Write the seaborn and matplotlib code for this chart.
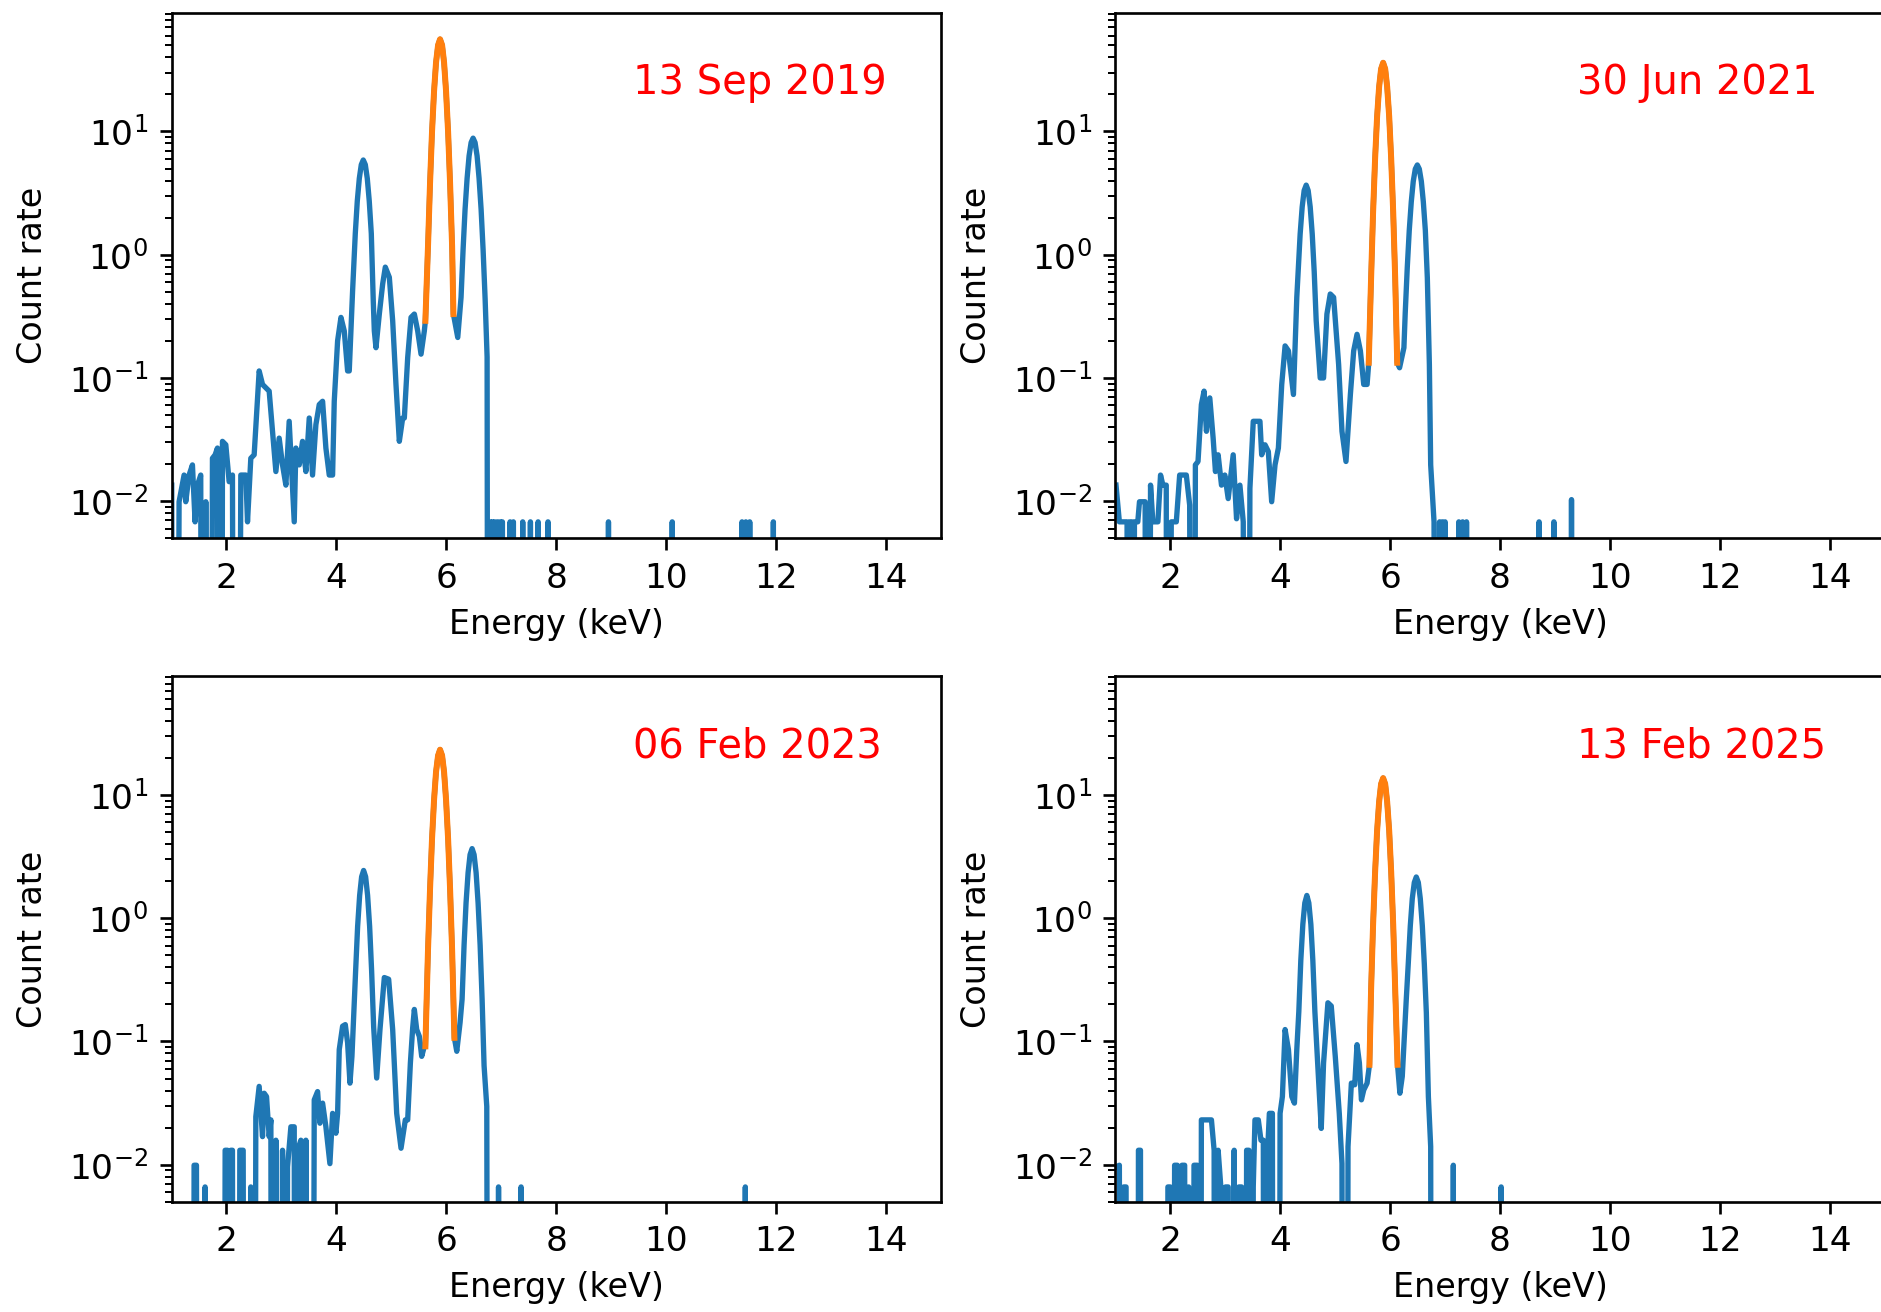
import numpy as np
import pandas as pd
import matplotlib
matplotlib.use("Agg")
import matplotlib.pyplot as plt
import seaborn as sns

# ---------------- data ----------------
dates = ["13 Sep 2019", "30 Jun 2021", "06 Feb 2023", "13 Feb 2025"]

energy_2019 = [1.004, 1.047, 1.138, 1.229, 1.259, 1.320, 1.381, 1.429, 1.472, 1.532,
               1.575, 1.624, 1.684, 1.745, 1.794, 1.836, 1.897, 1.927, 1.988, 2.049,
               2.109, 2.170, 2.261, 2.352, 2.383, 2.443, 2.504, 2.595, 2.656, 2.716,
               2.777, 2.838, 2.899, 2.959, 3.020, 3.081, 3.141, 3.233, 3.263, 3.324,
               3.384, 3.445, 3.506, 3.566, 3.627, 3.688, 3.749, 3.809, 3.870, 3.931,
               3.961, 4.022, 4.083, 4.143, 4.204, 4.234, 4.295, 4.344, 4.380, 4.417,
               4.453, 4.489, 4.526, 4.562, 4.598, 4.635, 4.671, 4.690, 4.720, 4.781,
               4.842, 4.890, 4.963, 5.024, 5.084, 5.145, 5.206, 5.236, 5.297, 5.358,
               5.418, 5.479, 5.540, 5.600, 5.619, 5.667, 5.704, 5.740, 5.777, 5.813,
               5.850, 5.886, 5.923, 5.959, 5.995, 6.032, 6.068, 6.105, 6.129, 6.208,
               6.268, 6.305, 6.341, 6.378, 6.414, 6.451, 6.487, 6.523, 6.560, 6.596,
               6.633, 6.669, 6.706, 6.742, 6.772]
rate_2019 = [0.0135, 0, 0.0099, 0.0163, 0.0099, 0.0163, 0.0197, 0.0068, 0.0135, 0.0163,
             0, 0.0099, 0, 0.0223, 0.0238, 0.0270, 0, 0.0306, 0.0287, 0.0144,
             0.0163, 0, 0.0163, 0.0163, 0.0068, 0.0223, 0.0238, 0.114, 0.0886, 0.0832,
             0.0782, 0.0369, 0.0174, 0.0325, 0.0197, 0.0135, 0.0445, 0.0068, 0.0270, 0.0197,
             0.0306, 0.0174, 0.0473, 0.0163, 0.0418, 0.0608, 0.0647, 0.0270, 0.0163, 0.0163,
             0.0647, 0.200, 0.310, 0.241, 0.114, 0.114, 0.511, 1.49, 2.72, 4.16,
             5.38, 5.87, 5.38, 4.16, 2.72, 1.49, 0.42, 0.241, 0.176, 0.330,
             0.579, 0.793, 0.656, 0.291, 0.0886, 0.0306, 0.0473, 0.0473, 0.146, 0.310,
             0.330, 0.241, 0.156, 0.241, 0.291, 1.18, 3.84, 10.0, 21.3, 36.3,
             50.2, 56.0, 50.2, 36.3, 21.3, 10.0, 3.84, 1.18, 0.330, 0.213,
             0.451, 1.10, 2.33, 4.16, 6.33, 8.13, 8.83, 8.13, 6.33, 4.16,
             2.33, 1.10, 0.437, 0.148, 0]
spike_energy_2019 = [6.80, 6.84, 6.88, 6.93, 6.98, 7.02, 7.16, 7.22, 7.39, 7.53,
                     7.67, 7.85, 8.95, 10.11, 11.38, 11.45, 11.52, 11.95]
spike_rate_2019 = [0.0068, 0.0068, 0.0068, 0.0068, 0.0068, 0.0068, 0.0068, 0.0068, 0.0068, 0.0068,
                   0.0068, 0.0068, 0.0068, 0.0068, 0.0068, 0.0068, 0.0068, 0.0068]
fit_energy_2019 = [5.619, 5.667, 5.704, 5.740, 5.777, 5.813, 5.850, 5.886, 5.923, 5.959,
                   5.995, 6.032, 6.068, 6.105, 6.129]
fit_rate_2019 = [0.291, 1.18, 3.84, 10.0, 21.3, 36.3, 50.2, 56.0, 50.2, 36.3,
                 21.3, 10.0, 3.84, 1.18, 0.330]

energy_2021 = [1.013, 1.074, 1.214, 1.239, 1.263, 1.300, 1.324, 1.348, 1.409, 1.440,
               1.543, 1.580, 1.641, 1.683, 1.775, 1.823, 1.866, 1.927, 1.957, 2.018,
               2.110, 2.171, 2.292, 2.353, 2.414, 2.457, 2.505, 2.566, 2.615, 2.658,
               2.719, 2.780, 2.822, 2.871, 2.932, 2.993, 3.054, 3.145, 3.206, 3.267,
               3.328, 3.389, 3.449, 3.510, 3.632, 3.663, 3.724, 3.784, 3.845, 3.906,
               3.967, 4.028, 4.089, 4.150, 4.241, 4.302, 4.326, 4.363, 4.400, 4.436,
               4.473, 4.509, 4.546, 4.583, 4.619, 4.655, 4.728, 4.789, 4.850, 4.911,
               4.972, 5.063, 5.124, 5.197, 5.277, 5.337, 5.398, 5.459, 5.520, 5.581,
               5.611, 5.654, 5.690, 5.727, 5.763, 5.800, 5.836, 5.873, 5.910, 5.946,
               5.983, 6.019, 6.056, 6.092, 6.129, 6.172, 6.251, 6.275, 6.312, 6.348,
               6.385, 6.421, 6.458, 6.495, 6.531, 6.568, 6.604, 6.641, 6.677, 6.714,
               6.738, 6.799, 6.860]
rate_2021 = [0.0135, 0.0068, 0.0068, 0, 0.0068, 0.0068, 0, 0.0068, 0.0068, 0.0099,
             0.0099, 0, 0.0135, 0.0068, 0.0068, 0.0163, 0.0135, 0.0135, 0, 0.0068,
             0.0068, 0.0163, 0.0163, 0.0093, 0, 0.0197, 0.0210, 0.0608, 0.0782, 0.0369,
             0.0689, 0.0325, 0.0174, 0.0238, 0.0135, 0.0163, 0.0105, 0.0238, 0.0072, 0.0135,
             0.0068, 0, 0.0127, 0.0445, 0.0445, 0.0238, 0.0287, 0.0253, 0.0099, 0.0197,
             0.0270, 0.0886, 0.182, 0.166, 0.0734, 0.451, 0.726, 1.47, 2.44, 3.32,
             3.67, 3.32, 2.44, 1.47, 0.726, 0.291, 0.100, 0.100, 0.330, 0.480,
             0.451, 0.129, 0.0369, 0.0210, 0.0734, 0.166, 0.226, 0.166, 0.0886, 0.0886,
             0.133, 0.649, 2.21, 6.06, 13.2, 23.1, 32.2, 36.1, 32.2, 23.1,
             13.2, 6.06, 2.21, 0.649, 0.133, 0.121, 0.176, 0.338, 0.787, 1.57,
             2.69, 3.94, 4.96, 5.35, 4.96, 3.94, 2.69, 1.57, 0.65, 0.129,
             0.0197, 0.0068, 0]
spike_energy_2021 = [6.90, 6.95, 7.00, 7.25, 7.32, 7.39, 8.71, 8.98, 9.30]
spike_rate_2021 = [0.0068, 0.0068, 0.0068, 0.0068, 0.0068, 0.0068, 0.0068, 0.0068, 0.0103]
fit_energy_2021 = [5.611, 5.654, 5.690, 5.727, 5.763, 5.800, 5.836, 5.873, 5.910, 5.946,
                   5.983, 6.019, 6.056, 6.092, 6.129]
fit_rate_2021 = [0.133, 0.649, 2.21, 6.06, 13.2, 23.1, 32.2, 36.1, 32.2, 23.1,
                 13.2, 6.06, 2.21, 0.649, 0.133]

energy_2023 = [1.381, 1.411, 1.454, 1.502, 1.581, 1.611, 1.642, 1.927, 1.976, 2.018,
               2.049, 2.079, 2.109, 2.140, 2.200, 2.243, 2.304, 2.352, 2.443, 2.486,
               2.534, 2.595, 2.656, 2.686, 2.729, 2.777, 2.808, 2.838, 2.899, 2.959,
               3.020, 3.069, 3.111, 3.172, 3.233, 3.263, 3.293, 3.354, 3.397, 3.445,
               3.494, 3.536, 3.597, 3.658, 3.700, 3.749, 3.809, 3.882, 3.931, 3.991,
               4.022, 4.052, 4.113, 4.162, 4.204, 4.247, 4.283, 4.350, 4.386, 4.423,
               4.459, 4.495, 4.532, 4.568, 4.605, 4.641, 4.678, 4.733, 4.793, 4.872,
               4.951, 5.024, 5.097, 5.176, 5.254, 5.297, 5.346, 5.388, 5.418, 5.461,
               5.509, 5.552, 5.600, 5.619, 5.667, 5.704, 5.740, 5.777, 5.813, 5.850,
               5.886, 5.923, 5.959, 5.995, 6.032, 6.068, 6.105, 6.147, 6.190, 6.250,
               6.287, 6.323, 6.359, 6.396, 6.432, 6.469, 6.505, 6.542, 6.578, 6.615,
               6.651, 6.687, 6.736, 6.784]
rate_2023 = [0, 0.0099, 0.0099, 0, 0, 0.0066, 0, 0, 0.0131, 0.0131,
             0, 0.0131, 0.0131, 0, 0, 0.0131, 0.0131, 0, 0.0066, 0,
             0.0245, 0.0432, 0.0169, 0.0380, 0.0357, 0.0169, 0.0231, 0, 0.0158, 0,
             0.0131, 0, 0.0096, 0.0203, 0.0203, 0, 0.0131, 0.0158, 0, 0.0158,
             0, 0, 0.0336, 0.0392, 0.0217, 0.0316, 0.0203, 0.0102, 0.0261, 0.0180,
             0.0261, 0.0859, 0.133, 0.137, 0.0973, 0.0459, 0.0757, 0.374, 0.854, 1.53,
             2.17, 2.44, 2.17, 1.53, 0.854, 0.374, 0.131, 0.0505, 0.125, 0.330,
             0.320, 0.125, 0.0261, 0.0136, 0.0231, 0.0231, 0.0668, 0.129, 0.182, 0.125,
             0.110, 0.0757, 0.0914, 0.0914, 0.558, 1.74, 4.43, 9.16, 15.4, 20.9,
             23.3, 20.9, 15.4, 9.16, 4.43, 1.74, 0.558, 0.107, 0.0832, 0.142,
             0.220, 0.605, 1.33, 2.34, 3.28, 3.67, 3.28, 2.34, 1.33, 0.605,
             0.220, 0.0635, 0.0297, 0]
spike_energy_2023 = [6.95, 7.36, 11.44]
spike_rate_2023 = [0.0066, 0.0066, 0.0066]
fit_energy_2023 = [5.619, 5.667, 5.704, 5.740, 5.777, 5.813, 5.850, 5.886, 5.923, 5.959,
                   5.995, 6.032, 6.068, 6.105, 6.147]
fit_rate_2023 = [0.0914, 0.558, 1.74, 4.43, 9.16, 15.4, 20.9, 23.3, 20.9, 15.4,
                 9.16, 4.43, 1.74, 0.558, 0.107]

energy_2025 = [1.013, 1.074, 1.117, 1.153, 1.196, 1.227, 1.397, 1.421, 1.458, 1.482,
               1.927, 1.957, 2.000, 2.030, 2.079, 2.128, 2.164, 2.213, 2.262, 2.298,
               2.335, 2.384, 2.432, 2.493, 2.530, 2.566, 2.749, 2.798, 2.822, 2.871,
               2.920, 2.962, 3.005, 3.054, 3.102, 3.163, 3.206, 3.248, 3.297, 3.346,
               3.389, 3.431, 3.468, 3.510, 3.541, 3.602, 3.650, 3.693, 3.724, 3.772,
               3.803, 3.858, 3.894, 3.955, 3.998, 4.040, 4.089, 4.150, 4.211, 4.259,
               4.302, 4.339, 4.375, 4.412, 4.448, 4.485, 4.521, 4.558, 4.594, 4.631,
               4.698, 4.747, 4.789, 4.868, 4.929, 5.002, 5.075, 5.124, 5.155, 5.197,
               5.234, 5.295, 5.356, 5.398, 5.441, 5.478, 5.520, 5.581, 5.624, 5.654,
               5.690, 5.727, 5.763, 5.800, 5.836, 5.873, 5.910, 5.946, 5.983, 6.019,
               6.056, 6.092, 6.135, 6.178, 6.221, 6.294, 6.330, 6.367, 6.403, 6.440,
               6.476, 6.513, 6.549, 6.586, 6.622, 6.659, 6.696, 6.738, 6.769]
rate_2025 = [0.0096, 0.0099, 0, 0.0066, 0.0066, 0, 0, 0.0131, 0.0131, 0,
             0, 0.0066, 0.0066, 0, 0.0099, 0.0099, 0, 0.0099, 0.0099, 0,
             0.0066, 0, 0.0099, 0.0099, 0, 0.0231, 0.0231, 0.0131, 0, 0.0131,
             0.0066, 0, 0.0066, 0.0066, 0, 0.0131, 0, 0.0066, 0.0066, 0,
             0.0131, 0.0131, 0, 0.0066, 0.0231, 0.0231, 0.0158, 0.0158, 0, 0.0131,
             0.0261, 0.0261, 0, 0, 0.0261, 0.0357, 0.125, 0.0859, 0.0357, 0.0316,
             0.0859, 0.175, 0.454, 0.892, 1.33, 1.53, 1.33, 0.892, 0.454, 0.175,
             0.0489, 0.0197, 0.0668, 0.206, 0.194, 0.0757, 0.0261, 0.0102, 0, 0,
             0.0140, 0.0459, 0.0445, 0.0942, 0.0668, 0.0336, 0.0404, 0.0459, 0.0647, 0.267,
             0.887, 2.38, 5.12, 8.82, 12.3, 13.7, 12.3, 8.82, 5.12, 2.38,
             0.887, 0.267, 0.0647, 0.0380, 0.0520, 0.220, 0.427, 0.865, 1.44, 1.95,
             2.16, 1.95, 1.44, 0.865, 0.427, 0.171, 0.0357, 0.0140, 0]
spike_energy_2025 = [7.15, 8.02]
spike_rate_2025 = [0.0099, 0.0066]
fit_energy_2025 = [5.624, 5.654, 5.690, 5.727, 5.763, 5.800, 5.836, 5.873, 5.910, 5.946,
                   5.983, 6.019, 6.056, 6.092, 6.135]
fit_rate_2025 = [0.0647, 0.267, 0.887, 2.38, 5.12, 8.82, 12.3, 13.7, 12.3, 8.82,
                 5.12, 2.38, 0.887, 0.267, 0.0647]

panels = [
    (energy_2019, rate_2019, spike_energy_2019, spike_rate_2019, fit_energy_2019, fit_rate_2019),
    (energy_2021, rate_2021, spike_energy_2021, spike_rate_2021, fit_energy_2021, fit_rate_2021),
    (energy_2023, rate_2023, spike_energy_2023, spike_rate_2023, fit_energy_2023, fit_rate_2023),
    (energy_2025, rate_2025, spike_energy_2025, spike_rate_2025, fit_energy_2025, fit_rate_2025),
]
for p in panels:
    assert len(p[0]) == len(p[1]) and len(p[2]) == len(p[3]) and len(p[4]) == len(p[5])

# ---------------- figure ----------------
W, H, DPI = 1881, 1312, 240
fig = plt.figure(figsize=(W / DPI, H / DPI), dpi=DPI)

ax_w, ax_h = 769.5 / W, 525.6 / H
lefts = [171.5 / W, 1115.3 / W]
bottoms = [1 - 538.3 / H, 1 - 1201.8 / H]
rects = [(lefts[0], bottoms[0]), (lefts[1], bottoms[0]),
         (lefts[0], bottoms[1]), (lefts[1], bottoms[1])]

BLUE = "#1f77b4"
ORANGE = "#ff7f0e"
FLOOR = 1e-12   # zero counts drawn below the axis, like matplotlib's log clipping

for (l, b), date, (E, R, sE, sR, fE, fR) in zip(rects, dates, panels):
    ax = fig.add_axes([l, b, ax_w, ax_h])
    x = list(E)
    y = list(R)
    for e, r in zip(sE, sR):
        x += [e - 0.01, e, e + 0.01]
        y += [0, r, 0]
    y = np.where(np.array(y) > 0, np.array(y), FLOOR)
    df = pd.DataFrame({"Energy": x, "Rate": y})
    sns.lineplot(data=df, x="Energy", y="Rate", ax=ax, color=BLUE, linewidth=1.6,
                 estimator=None, sort=False)
    dff = pd.DataFrame({"Energy": fE, "Rate": fR})
    sns.lineplot(data=dff, x="Energy", y="Rate", ax=ax, color=ORANGE, linewidth=1.8,
                 estimator=None, sort=False)
    ax.set_yscale("log")
    ax.set_xlim(1, 15)
    ax.set_ylim(0.005, 92)
    ax.set_xticks([2, 4, 6, 8, 10, 12, 14])
    ax.set_xlabel("Energy (keV)", fontsize=10)
    ax.set_ylabel("Count rate", fontsize=10, labelpad=6)
    ax.tick_params(labelsize=10.3)
    ax.text(0.6, 0.845, date, transform=ax.transAxes, color="red", fontsize=12)

fig.savefig("out.png", dpi=DPI)
